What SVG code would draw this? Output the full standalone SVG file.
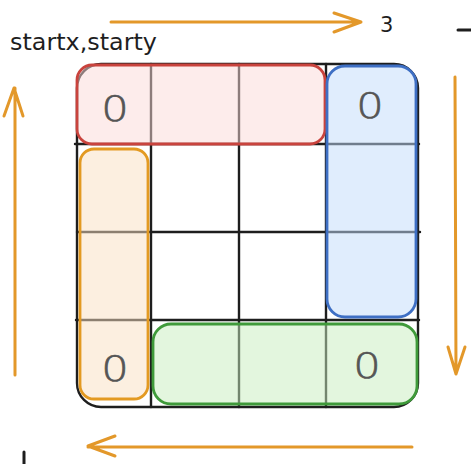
<svg xmlns="http://www.w3.org/2000/svg" width="471" height="464" viewBox="0 0 471 464">
<style>
.grid{fill:none;stroke:#1e1e1e;stroke-width:2.4;stroke-linecap:round}
.box{stroke-width:2.8;fill-opacity:0.5}
.zero{font-family:"DejaVu Sans",sans-serif;font-weight:200;font-size:36px;fill:#555555;stroke:#555555;stroke-width:0.6;text-anchor:middle}
.lbl{font-family:"DejaVu Sans",sans-serif;fill:#1e1e1e}
.arr{fill:none;stroke:#e3982a;stroke-width:3;stroke-linecap:round;stroke-linejoin:round}
.mark{stroke:#1e1e1e;stroke-width:3;stroke-linecap:round}
</style>
<rect width="471" height="464" fill="#ffffff"/>
<g id="grid">
<rect class="grid" x="77" y="64" width="341" height="343" rx="24"/>
<path class="grid" d="M151 64V407M239 64V407M326 64V407M75 144H419M77 232H420M76 320H419"/>
</g>
<g id="red">
<rect class="box" x="77" y="65" width="248" height="79" rx="15" fill="#fbd9d7" stroke="#c9433d"/>
<text class="zero" transform="translate(115 121) scale(1.2 1)">0</text>
</g>
<g id="blue">
<rect class="box" x="327" y="66" width="89" height="251" rx="18" fill="#c1dbfb" stroke="#3e6fc4"/>
<text class="zero" transform="translate(370 118) scale(1.2 1)">0</text>
</g>
<g id="orange">
<rect class="box" x="80" y="149" width="68" height="250" rx="14" fill="#f9dfc1" stroke="#e39a22"/>
<text class="zero" transform="translate(115 381) scale(1.2 1)">0</text>
</g>
<g id="green">
<rect class="box" x="153" y="324" width="264" height="80" rx="18" fill="#c7edbd" stroke="#3f9a3a"/>
<text class="zero" transform="translate(367 378) scale(1.2 1)">0</text>
</g>
<g id="connectors">
<path class="arr" d="M111 22H361M334 13L361 22L334 32"/>
<path class="arr" d="M455 77L456 374M448 347L456 374L465 347"/>
<path class="arr" d="M412 447H88M115 436L88 446L115 456"/>
<path class="arr" d="M15 375V88M4 116L14 88L23 116"/>
</g>
<text class="lbl" x="10" y="50" style="font-size:23px" textLength="147" lengthAdjust="spacingAndGlyphs">startx,starty</text>
<text class="lbl" x="380" y="32" style="font-size:21px">3</text>
<path class="mark" d="M458 30H471"/>
<path class="mark" d="M24 452V464"/>
</svg>
